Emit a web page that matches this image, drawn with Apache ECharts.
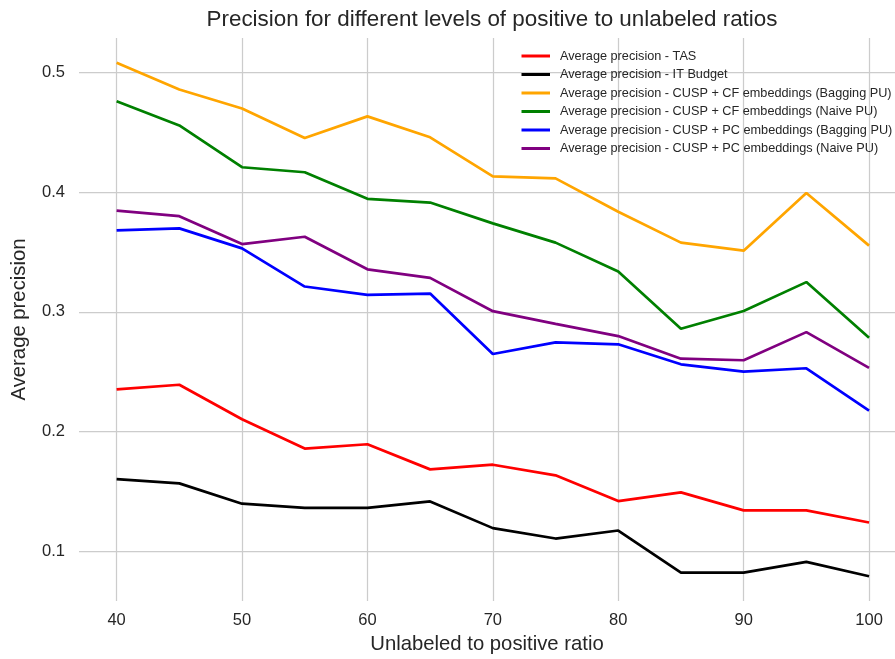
<!DOCTYPE html>
<html>
<head>
<meta charset="utf-8">
<script src="https://cdn.jsdelivr.net/npm/echarts@6/dist/echarts.min.js"></script>
<style>
html,body{margin:0;padding:0;background:#fff;}
#chart{width:895px;height:659px;}
</style>
</head>
<body>
<div id="chart"></div>
<script>
const ratios = [40, 45, 50, 55, 60, 65, 70, 75, 80, 85, 90, 95, 100];
const seriesNames = [
  'Average precision - TAS',
  'Average precision - IT Budget',
  'Average precision - CUSP + CF embeddings (Bagging PU)',
  'Average precision - CUSP + CF embeddings (Naive PU)',
  'Average precision - CUSP + PC embeddings (Bagging PU)',
  'Average precision - CUSP + PC embeddings (Naive PU)'
];
const tas = [0.2352, 0.2391, 0.2103, 0.1858, 0.1894, 0.1684, 0.1723, 0.1634, 0.1419, 0.1492, 0.1341, 0.1341, 0.1240];
const itBudget = [0.1603, 0.1567, 0.1397, 0.1363, 0.1363, 0.1416, 0.1193, 0.1106, 0.1173, 0.0821, 0.0821, 0.0911, 0.0791];
const cfBagging = [0.5083, 0.4859, 0.4700, 0.4453, 0.4634, 0.4459, 0.4133, 0.4116, 0.3837, 0.3579, 0.3512, 0.3994, 0.3554];
const cfNaive = [0.4761, 0.4558, 0.4209, 0.4167, 0.3945, 0.3914, 0.3740, 0.3579, 0.3338, 0.2859, 0.3008, 0.3249, 0.2784];
const pcBagging = [0.3681, 0.3698, 0.3531, 0.3212, 0.3142, 0.3153, 0.2648, 0.2745, 0.2729, 0.2562, 0.2501, 0.2529, 0.2175];
const pcNaive = [0.3847, 0.3800, 0.3567, 0.3628, 0.3356, 0.3284, 0.3006, 0.2900, 0.2798, 0.2609, 0.2596, 0.2831, 0.2532];
const xTicks = [40, 50, 60, 70, 80, 90, 100];
const yTicks = [0.1, 0.2, 0.3, 0.4, 0.5];
const colors = ['#ff0000', '#000000', '#ffa500', '#008000', '#0000ff', '#800080'];

const allValues = [tas, itBudget, cfBagging, cfNaive, pcBagging, pcNaive];
const chart = echarts.init(document.getElementById('chart'), null, {renderer: 'canvas'});
const font = '"Liberation Sans", Arial, sans-serif';
const textColor = '#262626';

const series = allValues.map((vals, i) => ({
  name: seriesNames[i],
  type: 'line',
  data: ratios.map((r, j) => [r, vals[j]]),
  showSymbol: false,
  symbol: 'none',
  lineStyle: {color: colors[i], width: 2.7},
  itemStyle: {color: colors[i]},
  animation: false
}));

chart.setOption({
  backgroundColor: '#ffffff',
  animation: false,
  title: {
    text: 'Precision for different levels of positive to unlabeled ratios',
    left: 492,
    top: 9,
    padding: 0,
    textAlign: 'center',
    textStyle: {fontFamily: font, fontSize: 22.4, fontWeight: 'normal', color: textColor}
  },
  legend: {
    orient: 'vertical',
    left: 521.5,
    top: 49,
    padding: 0,
    icon: 'rect',
    itemWidth: 28.5,
    itemHeight: 3,
    itemGap: 4.5,
    data: seriesNames,
    textStyle: {fontFamily: font, fontSize: 12.7, color: textColor, lineHeight: 14, padding: [0, 0, 0, 5]}
  },
  grid: {left: 79, top: 38, right: 0, bottom: 56, containLabel: false},
  xAxis: {
    type: 'value',
    min: 37,
    max: 102.07,
    name: 'Unlabeled to positive ratio',
    nameLocation: 'middle',
    nameGap: 33,
    nameTextStyle: {fontFamily: font, fontSize: 20.3, color: textColor},
    axisLine: {show: false},
    axisTick: {show: false, customValues: xTicks},
    axisLabel: {customValues: xTicks, fontFamily: font, fontSize: 16.5, color: textColor, margin: 11},
    splitLine: {show: true, lineStyle: {color: '#cccccc', width: 1.25}}
  },
  yAxis: {
    type: 'value',
    min: 0.0584,
    max: 0.5289,
    name: 'Average precision',
    nameLocation: 'middle',
    nameGap: 50,
    nameTextStyle: {fontFamily: font, fontSize: 20.3, color: textColor},
    axisLine: {show: false},
    axisTick: {show: false, customValues: yTicks},
    axisLabel: {customValues: yTicks, fontFamily: font, fontSize: 16.5, color: textColor, margin: 14,
      formatter: v => v.toFixed(1)},
    splitLine: {show: true, lineStyle: {color: '#cccccc', width: 1.25}}
  },
  series: series
});
</script>
</body>
</html>
